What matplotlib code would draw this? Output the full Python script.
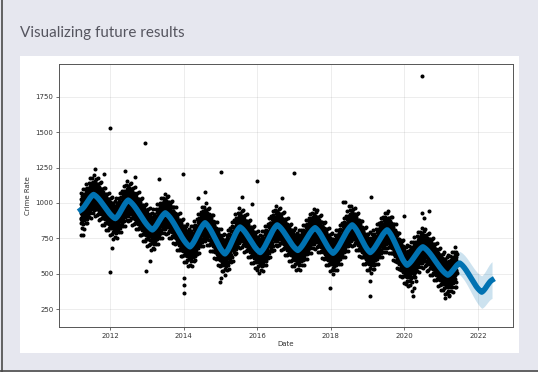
import numpy as np
import matplotlib
matplotlib.use("Agg")
import matplotlib.pyplot as plt
from matplotlib.patches import Rectangle
from matplotlib.lines import Line2D

# ---------------- data ----------------
# forecast (yhat) at seasonal peaks / troughs, decimal years
YHAT_T = [2011.20, 2011.55, 2012.14, 2012.49, 2013.15, 2013.50, 2014.17, 2014.58,
          2015.12, 2015.53, 2016.08, 2016.54, 2017.10, 2017.57, 2018.06, 2018.58,
          2019.07, 2019.53, 2020.07, 2020.50, 2021.18, 2021.50, 2022.10, 2022.38]
YHAT_V = [950, 1060, 890, 1020, 810, 930, 690, 860,
          640, 830, 650, 845, 665, 825, 645, 845,
          650, 810, 560, 690, 490, 575, 370, 455]
# half-width of the uncertainty band
BAND_T = [2011.20, 2019.80, 2020.60, 2021.45, 2022.38]
BAND_V = [65, 70, 85, 80, 130]
# observed history range
OBS_START, OBS_END = 2011.20, 2021.42
# typical deviations of the daily observations around the fit
RESID = [-95, 40, -20, 75, -55, 10, 120, -70, 25, -5, 60, -130, 35, -40, 90, -15,
         50, -85, 5, 140, -60, 30, -110, 15, 70, -35, 100, -25, 45, -150, 20, -50,
         85, -10, 55, -75, 0]
# isolated observations
OUT_T = [2011.60, 2011.84, 2012.40, 2012.68, 2013.33, 2011.21, 2011.25, 2012.05,
         2012.00, 2012.00, 2012.95, 2012.98, 2013.09, 2013.97, 2014.00, 2014.00,
         2014.01, 2014.39, 2014.58, 2014.99, 2015.02, 2015.02, 2015.59, 2015.86,
         2016.00, 2016.00, 2016.67, 2017.00, 2017.98, 2018.33, 2018.38, 2018.50,
         2019.05, 2019.06, 2019.10, 2019.99, 2020.05, 2020.12, 2020.15, 2020.18,
         2020.20, 2020.23, 2020.25, 2020.27, 2020.30, 2020.47, 2020.48, 2020.52,
         2020.66, 2021.10, 2021.15, 2021.20]
OUT_V = [1240, 1205, 1226, 1184, 1170, 773, 775, 681,
         1530, 515, 1425, 519, 589, 1205, 469, 420,
         363, 1035, 1078, 441, 1219, 469, 1042, 993,
         1155, 526, 1035, 1212, 398, 1007, 1007, 979,
         342, 448, 1042, 908, 430, 480, 420, 470,
         380, 340, 500, 400, 450, 1895, 929, 894,
         943, 330, 360, 350]

XTICKS = [2012, 2014, 2016, 2018, 2020, 2022]
YTICKS = [250, 500, 750, 1000, 1250, 1500, 1750]
TITLE = "Visualizing future results"
XLABEL = "Date"
YLABEL = "Crime Rate"


def smooth_curve(tn, vn, t):
    tn = np.asarray(tn, float)
    vn = np.asarray(vn, float)
    i = np.clip(np.searchsorted(tn, t) - 1, 0, len(tn) - 2)
    u = np.clip((t - tn[i]) / (tn[i + 1] - tn[i]), 0, 1)
    w = 0.5 * u + 0.25 * (1 - np.cos(np.pi * u))
    return vn[i] + (vn[i + 1] - vn[i]) * w


# ---------------- figure ----------------
W, H = 538, 372
fig = plt.figure(figsize=(W / 100, H / 100), dpi=100)
fig.patch.set_facecolor("#e6e7ef")

# white card
fig.patches.append(Rectangle((20 / W, 1 - 353 / H), 499 / W, 297 / H,
                             transform=fig.transFigure, facecolor="white",
                             edgecolor="none", zorder=-10))
# page borders (left and bottom)
fig.lines.append(Line2D([1.5 / W, 1.5 / W], [0, 1], transform=fig.transFigure,
                        color="#4a4a4a", lw=1.2, zorder=-5))
fig.lines.append(Line2D([0, 1], [1.5 / H, 1.5 / H], transform=fig.transFigure,
                        color="#4a4a4a", lw=1.2, zorder=-5))

fig.text(20 / W, 1 - 33 / H, TITLE, fontsize=11, color="#55555f",
         family="Lato", va="center", ha="left")

ax = fig.add_axes([59 / W, 1 - 327 / H, (513 - 59) / W, (327 - 64) / H])
ax.set_zorder(5)
ax.set_facecolor("white")

t_fc = np.linspace(YHAT_T[0], YHAT_T[-1], 3000)
yhat = smooth_curve(YHAT_T, YHAT_V, t_fc)
band = np.interp(t_fc, BAND_T, BAND_V)

ax.fill_between(t_fc, yhat - band, yhat + band, color="#0072B2", alpha=0.2, lw=0)

days = np.arange(OBS_START, OBS_END, 1 / 365.25)
obs = smooth_curve(YHAT_T, YHAT_V, days) + np.resize(np.array(RESID, float), days.size)
ax.plot(days, obs, "k.", ms=3.8, zorder=3)
ax.plot(OUT_T, OUT_V, "k.", ms=3.8, zorder=3)

ax.plot(t_fc, yhat, "-", color="#0072B2", lw=4.0, zorder=4)

ax.set_xlim(2010.61, 2022.95)
ax.set_ylim(123, 1983)
ax.set_xticks(XTICKS)
ax.set_xticklabels([str(x) for x in XTICKS])
ax.set_yticks(YTICKS)
ax.grid(True, which="major", color="gray", ls="-", lw=0.5, alpha=0.2)
ax.set_axisbelow(True)
ax.tick_params(labelsize=5, length=2, width=0.5, pad=2, colors="#333333")
for s in ax.spines.values():
    s.set_linewidth(0.7)
    s.set_color("#555555")
ax.set_xlabel(XLABEL, fontsize=5, color="#333333", labelpad=2)
ax.set_ylabel(YLABEL, fontsize=5, color="#333333", labelpad=3)

fig.savefig("out.png", dpi=100, facecolor=fig.get_facecolor())
